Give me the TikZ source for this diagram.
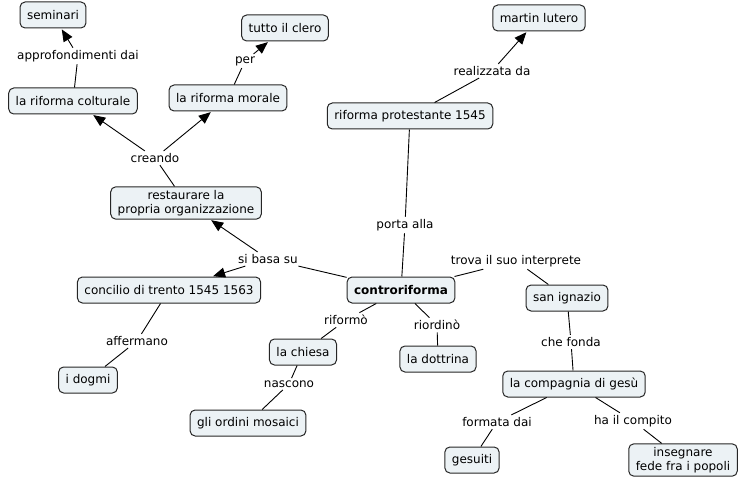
\documentclass[tikz,border=0pt]{standalone}
\usepackage{fontspec}
\setmainfont{DejaVu Sans}
\usetikzlibrary{arrows.meta}
\definecolor{cfill}{RGB}{236,242,245}
\begin{document}
\begin{tikzpicture}[x=1pt, y=-1pt, every node/.style={font=\fontsize{12}{14}\selectfont},
  box/.style={draw=black!85, fill=cfill, line width=1pt, rounded corners=5pt, align=center, inner xsep=7pt, minimum height=26pt},
  lab/.style={inner sep=2pt},
  arr/.style={-{Triangle[length=12pt,width=10pt]}, shorten >=1pt},
  every path/.style={line width=0.9pt}]
\useasboundingbox (0,0) rectangle (741,484);
% concetti
\node[box] (sem) at (53,15) {seminari};
\node[box] (clero) at (285,28) {tutto il clero};
\node[box] (lutero) at (539,18) {martin lutero};
\node[box] (colt) at (73,101) {la riforma colturale};
\node[box] (mor) at (228,98) {la riforma morale};
\node[box] (prot) at (410,116) {riforma protestante 1545};
\node[box] (rest) at (186,203) {restaurare la\\propria organizzazione};
\node[box] (conc) at (169,290) {concilio di trento 1545 1563};
\node[box, font=\fontsize{12}{14}\selectfont\bfseries] (contro) at (401,290) {controriforma};
\node[box] (ign) at (567,298) {san ignazio};
\node[box] (chiesa) at (303,352) {la chiesa};
\node[box] (dottr) at (438,359) {la dottrina};
\node[box] (dogmi) at (88,380) {i dogmi};
\node[box] (comp) at (574,384) {la compagnia di gesù};
\node[box] (ordini) at (248,423) {gli ordini mosaici};
\node[box] (ges) at (472,460) {gesuiti};
\node[box] (ins) at (683,460) {insegnare\\fede fra i popoli};
% frasi di collegamento
\node[lab] (appr) at (78,56) {approfondimenti dai};
\node[lab] (per) at (245,61) {per};
\node[lab] (crea) at (155,158) {creando};
\node[lab] (real) at (492,71) {realizzata da};
\node[lab] (porta) at (405,225) {porta alla};
\node[lab] (basa) at (268,259) {si basa su};
\node[lab] (trova) at (516,261) {trova il suo interprete};
\node[lab] (aff) at (137,341) {affermano};
\node[lab] (rif) at (346,320) {riformò};
\node[lab] (riord) at (437,325) {riordinò};
\node[lab] (nasc) at (289,384) {nascono};
\node[lab] (fonda) at (571,342) {che fonda};
\node[lab] (form) at (497,422) {formata dai};
\node[lab] (comp2) at (633,421) {ha il compito};
% collegamenti
\draw (colt) -- (appr); \draw[arr] (appr) -- (sem);
\draw (mor) -- (per); \draw[arr] (per) -- (clero);
\draw (rest) -- (crea); \draw[arr] (crea) -- (colt); \draw[arr] (crea) -- (mor);
\draw (prot) -- (real); \draw[arr] (real) -- (lutero);
\draw (prot) -- (porta); \draw (porta) -- (contro);
\draw (contro) -- (basa); \draw[arr] (basa) -- (rest); \draw[arr] (basa) -- (conc);
\draw (contro) -- (trova); \draw (trova) -- (ign);
\draw (conc) -- (aff); \draw (aff) -- (dogmi);
\draw (contro) -- (rif); \draw (rif) -- (chiesa);
\draw (contro) -- (riord); \draw (riord) -- (dottr);
\draw (chiesa) -- (nasc); \draw (nasc) -- (ordini);
\draw (ign) -- (fonda); \draw (fonda) -- (comp);
\draw (comp) -- (form); \draw (form) -- (ges);
\draw (comp) -- (comp2); \draw (comp2) -- (ins);
\end{tikzpicture}
\end{document}
